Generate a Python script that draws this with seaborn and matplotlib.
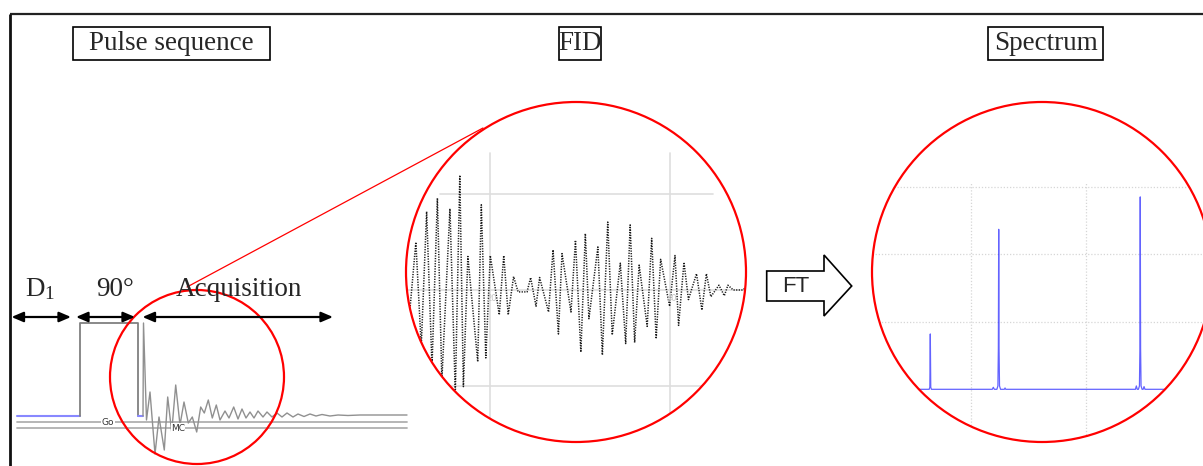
import matplotlib
matplotlib.use("Agg")
import matplotlib.pyplot as plt
import seaborn as sns
import pandas as pd
from matplotlib.patches import Circle, Rectangle, Polygon

# ---------------- data ----------------
# Pulse sequence (time axis in arbitrary units, amplitude in arbitrary units)
d1_t = [0.7, 64.0]
d1_amp = [0.0, 0.0]
pulse_t = [64.0, 64.0, 121.5, 121.5]
pulse_amp = [0.0, 93.3, 93.3, 0.0]
gap_t = [121.5, 126.5]
gap_amp = [0.0, 0.0]
acq_t = [127, 127.5, 130.5, 134, 139, 143, 148.3, 151.7, 155.7, 159.7, 164, 168,
         172.3, 176.3, 180.7, 184.7, 188.3, 192.3, 196.3, 200.3, 204, 209, 213,
         217.7, 222, 226, 230, 234, 238, 242, 247, 251, 256, 261, 266, 271, 277,
         282, 288, 294, 300, 306, 314, 322, 332, 344, 391]
acq_amp = [0, 93, -4, 24, -38, -1, -34, 19, -16, 31, -9, 14, -7, -1, -16, 9, 3,
           16, -2, 11, -4, 5, -2, 9, -3, 7, -2, 4, -2, 5, -1, 4, -1, 3, -1, 3, -1,
           2, -0.5, 2, 0, 1.5, 0, 1, 0.5, 1, 1]
chan_t = [0.7, 390.7]
go_amp = [-6.3, -6.3]
mc_amp = [-12.3, -12.3]

# FID (time points, normalised signal)
fid_t = [10.4, 10.9, 11.7, 12.3, 12.9, 13.5, 14.1, 14.6, 15.5, 16.1, 16.6, 17.0,
         17.5, 18.6, 19.0, 19.5, 20.0, 21.0, 21.5, 22.0, 22.6, 23.1, 24.1, 24.5,
         25.1, 25.5, 26.5, 27.0, 27.6, 28.0, 29.0, 29.5, 30.1, 30.6, 31.0, 32.0,
         32.5, 33.1, 33.6, 34.5, 35.1, 35.6, 36.1, 36.6, 37.5, 38.0, 38.5, 39.0,
         40.0, 40.6, 41.0, 41.6, 42.1, 43.0, 43.6, 44.1, 44.6, 45.5, 46.1, 46.5,
         47.1, 48.2, 48.6, 49.2]
fid_v = [0.2, -0.35, 0.50, -0.59, 0.82, -0.80, 0.96, -0.94, 0.85, -1.08, 1.20,
         -1.01, 0.35, -0.75, 0.89, -0.71, 0.36, -0.26, 0.36, -0.26, 0.14, -0.02,
         -0.02, 0.13, -0.17, 0.13, -0.23, 0.42, -0.46, 0.38, -0.23, 0.52, -0.65,
         0.59, -0.30, 0.45, -0.68, 0.71, -0.47, 0.28, -0.56, 0.68, -0.55, 0.26,
         -0.38, 0.54, -0.51, 0.32, -0.17, 0.36, -0.37, 0.29, -0.10, 0.17, -0.21,
         0.17, -0.07, 0.05, -0.06, 0.05, 0.0, 0.0, 0.04, 0.0]
fid_ticks = [20, 40]

# Spectrum (frequency axis, intensity)
spec_x = [0.45, 0.636, 0.642, 0.646, 0.650, 0.656, 1.185, 1.194, 1.203, 1.225,
          1.234, 1.238, 1.241, 1.244, 1.248, 1.257, 1.290, 1.296, 1.302, 2.430,
          2.438, 2.446, 2.456, 2.465, 2.469, 2.472, 2.475, 2.479, 2.488, 2.497,
          2.505, 2.513, 2.789]
spec_y = [0.0, 0.0, 0.03, 0.82, 0.03, 0.0, 0.0, 0.03, 0.0, 0.0, 0.05, 0.6, 2.37,
          0.6, 0.05, 0.0, 0.0, 0.02, 0.0, 0.0, 0.05, 0.0, 0.0, 0.05, 0.6, 2.85,
          0.6, 0.05, 0.0, 0.0, 0.04, 0.0, 0.0]
spec_grid_x = [1, 2]
spec_grid_y = [1, 2, 3]

titles = ["Pulse sequence", "FID", "Spectrum"]
seq_labels = [r"$\mathregular{D_1}$", "90°", "Acquisition"]

# ---------------- figure ----------------
sns.set_style("white")
plt.rcParams["font.family"] = ["Liberation Serif", "DejaVu Serif"]
plt.rcParams["mathtext.fontset"] = "custom"
plt.rcParams["mathtext.rm"] = "Liberation Serif"

W, H = 1203, 466
fig = plt.figure(figsize=(W / 100, H / 100), dpi=100)


def px_axes(x0, x1, y0, y1, xlim, ylim, z=1):
    ax = fig.add_axes([x0 / W, 1 - y1 / H, (x1 - x0) / W, (y1 - y0) / H], zorder=z)
    ax.set_xlim(*xlim)
    ax.set_ylim(*ylim)
    ax.axis("off")
    ax.patch.set_alpha(0)
    return ax


# overlay for decoration, in pixel coordinates
ov = fig.add_axes([0, 0, 1, 1], zorder=10)
ov.set_xlim(0, W)
ov.set_ylim(H, 0)
ov.axis("off")
ov.patch.set_alpha(0)

# --- pulse sequence panel ---
ps = px_axes(10, 410, 300, 466, (-6, 394), (-50, 116))
sns.lineplot(x=chan_t, y=go_amp, ax=ps, color="#b0b0b0", lw=1.3, estimator=None, sort=False)
sns.lineplot(x=chan_t, y=mc_amp, ax=ps, color="#b0b0b0", lw=1.3, estimator=None, sort=False)
sns.lineplot(x=d1_t, y=d1_amp, ax=ps, color="#8888ff", lw=1.5, estimator=None, sort=False)
sns.lineplot(x=pulse_t, y=pulse_amp, ax=ps, color="#808080", lw=1.3, estimator=None, sort=False)
sns.lineplot(x=gap_t, y=gap_amp, ax=ps, color="#8888ff", lw=1.5, estimator=None, sort=False)
sns.lineplot(x=acq_t, y=acq_amp, ax=ps, color="#909090", lw=1.0, estimator=None, sort=False)
ps.text(92, go_amp[0], "Go", fontsize=6.5, family="DejaVu Sans", color="#333333",
        ha="center", va="center", bbox=dict(fc="white", ec="none", pad=0.3))
ps.text(162, mc_amp[0], "MC", fontsize=6.5, family="DejaVu Sans", color="#333333",
        ha="center", va="center", bbox=dict(fc="white", ec="none", pad=0.3))

# --- FID panel ---
fid_clip = Circle((576, 272), 170, transform=ov.transData)
fa = px_axes(406, 747, 102, 442, (10.6, 48.63), (-1.589, 1.965))
gl = [fa.axhline(0, color="#dedede", lw=1.2),
      fa.axhline(1, xmin=0.10, xmax=0.90, color="#dedede", lw=1.2),
      fa.axhline(-1, xmin=0.12, xmax=0.883, color="#dedede", lw=1.2)]
for t in fid_ticks:
    gl.append(fa.axvline(t, ymin=0, ymax=0.85, color="#dedede", lw=1.2))
    fa.text(t + 0.2, -0.04, str(t), fontsize=6, family="DejaVu Sans", color="#c4c4c4",
            ha="center", va="top")
sns.lineplot(x=fid_t, y=fid_v, ax=fa, color="#1a1a1a", lw=1.1, estimator=None, sort=False)
fa.lines[-1].set_linestyle((0, (0.8, 0.9)))
for ln in fa.lines:
    ln.set_clip_path(fid_clip)

# --- spectrum panel ---
sp_clip = Circle((1042, 272), 170, transform=ov.transData)
sa = px_axes(872, 1212, 183, 466, (0.139, 3.096), (-1.136, 3.056))
for gx in spec_grid_x:
    sa.axvline(gx, color="#d6d6d6", lw=0.9, ls=(0, (1, 1.5)))
for gy in spec_grid_y:
    sa.axhline(gy, color="#d6d6d6", lw=0.9, ls=(0, (1, 1.5)))
sns.lineplot(x=spec_x, y=spec_y, ax=sa, color="#1010ff", lw=0.9, alpha=0.65,
             estimator=None, sort=False)
for ln in sa.lines:
    ln.set_clip_path(sp_clip)

# --- decoration ---
# frame
ov.plot([9.5, W], [14, 14], color="#222222", lw=1.6, solid_capstyle="butt")
ov.plot([9.5, 9.5], [14, H], color="#111111", lw=2.0, solid_capstyle="butt")

# title boxes
boxes = [(73, 270, 171.5), (559, 601, 580), (988, 1103, 1045.5)]
for (bx0, bx1, cx), ttl in zip(boxes, titles):
    ov.add_patch(Rectangle((bx0, 27), bx1 - bx0, 33, fc="white", ec="black", lw=1.2))
    ov.text(cx, 44, ttl, fontsize=19.5, ha="center", va="center")

# sequence labels and arrows
for (lx, txt) in zip([40, 115.5, 238.5], seq_labels):
    ov.text(lx, 289, txt, fontsize=19.5, ha="center", va="center")
for (a0, a1) in [(11.5, 71), (76, 135), (142.5, 333)]:
    ov.annotate("", xy=(a1, 317), xytext=(a0, 317),
                arrowprops=dict(arrowstyle="<|-|>,head_length=0.7,head_width=0.3",
                                color="black", lw=1.6, shrinkA=0, shrinkB=0))

# circles and connector
ov.add_patch(Circle((197, 377), 87, fill=False, ec="red", lw=1.6))
ov.add_patch(Circle((576, 272), 170, fill=False, ec="red", lw=1.6))
ov.add_patch(Circle((1042, 272), 170, fill=False, ec="red", lw=1.6))
ov.plot([187, 483], [287, 128], color="red", lw=0.9)

# FT arrow
ov.add_patch(Polygon([(766.7, 271), (824, 271), (824, 255), (851.7, 286), (824, 316),
                      (824, 301), (766.7, 301)], closed=True, fc="white", ec="black", lw=1.2))
ov.text(796, 287, "FT", fontsize=16, family="Liberation Sans", ha="center", va="center")

fig.savefig("out.png", dpi=100)
